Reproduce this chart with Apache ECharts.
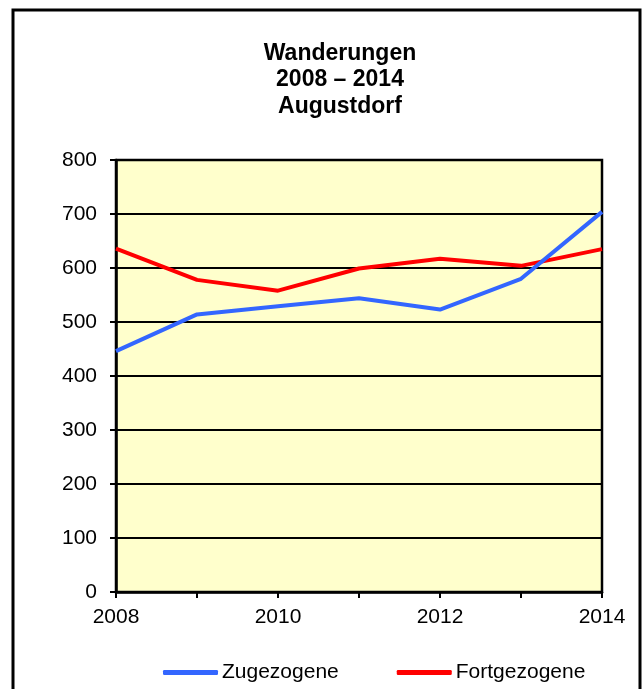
<!DOCTYPE html>
<html>
<head>
<meta charset="utf-8">
<script src="https://cdn.jsdelivr.net/npm/echarts@6/dist/echarts.min.js"></script>
<style>
html,body{margin:0;padding:0;background:#fff;}
#chart{width:642px;height:689px;}
</style>
</head>
<body>
<div id="chart"></div>
<script>
var years = ['2008', '2009', '2010', '2011', '2012', '2013', '2014'];
var zugezogene = [446, 514, 529, 544, 523, 580, 704];
var fortgezogene = [636, 578, 558, 599, 617, 604, 635];
var yTicks = [0, 100, 200, 300, 400, 500, 600, 700, 800];

var FONT = "'Liberation Sans', Arial, sans-serif";
var chart = echarts.init(document.getElementById('chart'), null, {renderer: 'canvas'});
chart.setOption({
  animation: false,
  backgroundColor: '#ffffff',
  graphic: [{
    type: 'rect',
    shape: {x: 13, y: 10, width: 627, height: 700},
    style: {fill: 'none', stroke: '#000', lineWidth: 3},
    silent: true
  }],
  title: {
    text: 'Wanderungen\n2008 – 2014\nAugustdorf',
    left: 340,
    textAlign: 'center',
    top: 40,
    padding: 0,
    textStyle: {fontFamily: FONT, fontSize: 23, fontWeight: 'bold', color: '#000', lineHeight: 26.7}
  },
  legend: {
    left: 158,
    top: 657,
    itemWidth: 55,
    itemHeight: 5,
    itemGap: 58,
    icon: 'roundRect',
    textStyle: {fontFamily: FONT, fontSize: 21, color: '#000', padding: [0, 0, 0, -1]},
    data: ['Zugezogene', 'Fortgezogene']
  },
  grid: {
    left: 116, right: 40, top: 160, bottom: 97,
    show: true,
    backgroundColor: '#FFFFCC',
    borderColor: '#000',
    borderWidth: 2.5
  },
  xAxis: {
    type: 'category',
    data: years,
    boundaryGap: false,
    axisLine: {show: true, lineStyle: {color: '#000', width: 2.5}},
    axisTick: {show: true, interval: 0, length: 6, lineStyle: {color: '#000', width: 2}},
    axisLabel: {interval: 1, margin: 15, fontFamily: FONT, fontSize: 21, color: '#000'},
    splitLine: {show: false}
  },
  yAxis: {
    type: 'value',
    min: yTicks[0],
    max: yTicks[yTicks.length - 1],
    interval: 100,
    axisLine: {show: true, lineStyle: {color: '#000', width: 2.5}},
    axisTick: {show: true, length: 6, lineStyle: {color: '#000', width: 2}},
    axisLabel: {margin: 19, fontFamily: FONT, fontSize: 21, color: '#000'},
    splitLine: {show: true, lineStyle: {color: '#000', width: 2}}
  },
  series: [{
    name: 'Zugezogene',
    type: 'line',
    data: zugezogene,
    symbol: 'none',
    lineStyle: {color: '#3366FF', width: 4},
    itemStyle: {color: '#3366FF'},
    z: 3
  }, {
    name: 'Fortgezogene',
    type: 'line',
    data: fortgezogene,
    symbol: 'none',
    lineStyle: {color: '#FF0000', width: 4},
    itemStyle: {color: '#FF0000'},
    z: 2
  }]
});
</script>
</body>
</html>
